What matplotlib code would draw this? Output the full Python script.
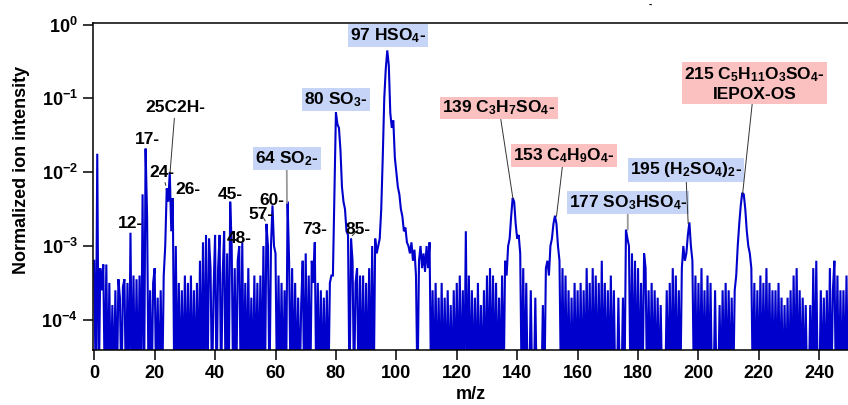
import matplotlib
matplotlib.use("Agg")
import matplotlib.pyplot as plt
import numpy as np

plt.rcParams['font.family'] = ['Liberation Sans', 'DejaVu Sans']
plt.rcParams['font.weight'] = 'bold'
plt.rcParams['mathtext.fontset'] = 'custom'
plt.rcParams['mathtext.rm'] = 'Liberation Sans:bold'
plt.rcParams['mathtext.bf'] = 'Liberation Sans:bold'
plt.rcParams['mathtext.it'] = 'Liberation Sans:bold'
plt.rcParams['mathtext.default'] = 'rm'

# spectrum: m/z from 0 to 250 in 0.5 steps,
# log10 of normalized intensity (-5 = below the axis floor)
mz_start, mz_step = 0.0, 0.5
log_int = [
    # 0 - 9.5
    -3.2, -5, -1.75, -5, -3.3, -3.6, -3.25, -5, -3.25, -5,
    -3.5, -5, -3.8, -5, -3.6, -5, -3.45, -3.7, -5, -3.55,
    # 10 - 19.5
    -3.45, -5, -3.5, -5, -2.82, -5, -3.4, -5, -3.45, -5,
    -3.4, -5, -2.3, -5, -1.68, -2.6, -5, -3.6, -5, -3.5,
    # 20 - 29.5
    -3.3, -5, -3.7, -5, -3.6, -5, -3.4, -3.0, -2.22, -2.4,
    -2.0, -2.8, -2.35, -5, -3.0, -5, -3.5, -5, -3.6, -5,
    # 30 - 39.5
    -3.4, -5, -3.5, -5, -3.4, -5, -3.6, -5, -3.5, -5,
    -3.2, -5, -2.95, -5, -2.85, -5, -2.9, -3.3, -5, -3.6,
    # 40 - 49.5
    -2.85, -5, -3.3, -2.85, -5, -3.4, -2.8, -5, -3.1, -5,
    -2.4, -3.0, -5, -3.3, -5, -3.2, -3.0, -5, -2.95, -5,
    # 50 - 59.5
    -3.5, -5, -3.3, -5, -3.7, -5, -3.4, -5, -3.5, -5,
    -3.4, -5, -3.0, -5, -2.7, -3.0, -5, -3.0, -2.45, -3.0,
    # 60 - 69.5
    -3.1, -5, -3.4, -5, -3.5, -5, -3.6, -5, -2.4, -3.2,
    -5, -3.3, -5, -3.5, -5, -3.7, -5, -3.8, -3.2, -5,
    # 70 - 79.5
    -3.1, -5, -3.4, -5, -3.2, -3.5, -2.95, -5, -3.5, -5,
    -3.6, -5, -3.7, -5, -3.6, -5, -3.5, -3.4, -3.4, -2.3,
    # 80 - 89.5
    -1.19, -1.35, -1.4, -1.7, -2.2, -2.4, -2.5, -2.8, -2.85, -5,
    -2.9, -3.2, -5, -3.5, -3.3, -5, -3.4, -5, -3.4, -5,
    # 90 - 99.5
    -3.5, -5, -3.3, -5, -3.0, -5, -2.9, -3.1, -3.0, -2.9,
    -2.5, -1.8, -1.0, -0.6, -0.35, -0.55, -1.2, -1.4, -1.3, -1.8,
    # 100 - 109.5
    -2.0, -2.2, -2.3, -2.5, -2.6, -2.8, -2.75, -2.95, -3.0, -3.1,
    -2.95, -3.2, -3.05, -3.4, -5, -3.2, -3.0, -3.3, -3.1, -3.35,
    # 110 - 119.5
    -3.0, -3.3, -2.95, -5, -3.6, -5, -3.5, -5, -3.7, -5,
    -3.5, -5, -3.7, -5, -3.6, -5, -3.8, -5, -3.6, -5,
    # 120 - 129.5
    -3.5, -5, -3.4, -5, -3.6, -5, -2.8, -5, -3.4, -5,
    -3.6, -5, -3.7, -5, -3.5, -5, -3.8, -5, -3.6, -5,
    # 130 - 139.5
    -3.4, -5, -3.3, -5, -3.4, -5, -3.5, -5, -3.7, -5,
    -3.4, -5, -3.2, -3.4, -3.0, -2.9, -2.6, -2.35, -2.4, -2.7,
    # 140 - 149.5
    -2.9, -2.85, -3.1, -5, -3.3, -5, -3.5, -5, -5, -3.6,
    -5, -5, -3.7, -5, -5, -5, -5, -3.8, -5, -3.3,
    # 150 - 159.5
    -3.2, -3.4, -3.0, -2.9, -2.7, -2.59, -2.7, -3.0, -3.2, -5,
    -3.3, -5, -3.4, -5, -3.6, -5, -3.7, -5, -3.5, -5,
    # 160 - 169.5
    -3.6, -5, -3.5, -5, -3.6, -5, -3.3, -5, -3.5, -5,
    -3.3, -5, -3.4, -5, -3.5, -5, -3.2, -5, -3.5, -5,
    # 170 - 179.5
    -3.6, -5, -3.4, -5, -3.6, -5, -5, -3.7, -5, -5,
    -3.7, -5, -2.78, -2.9, -3.0, -5, -3.1, -5, -3.2, -5,
    # 180 - 189.5
    -3.3, -5, -3.5, -5, -3.1, -3.3, -5, -3.6, -5, -3.5,
    -5, -3.6, -5, -3.7, -5, -3.8, -5, -5, -5, -3.6,
    # 190 - 199.5
    -5, -3.5, -5, -3.3, -5, -3.4, -5, -3.6, -5, -3.3,
    -3.0, -3.2, -3.1, -2.85, -2.68, -3.0, -3.2, -5, -3.4, -5,
    # 200 - 209.5
    -3.5, -5, -3.3, -5, -3.6, -5, -3.4, -5, -3.5, -5,
    -5, -3.6, -5, -5, -3.8, -5, -3.6, -5, -3.5, -5,
    # 210 - 219.5
    -3.6, -5, -3.7, -5, -3.6, -3.4, -3.0, -2.7, -2.45, -2.28,
    -2.3, -2.5, -2.8, -3.0, -3.1, -3.3, -5, -3.5, -5, -3.6,
    # 220 - 229.5
    -5, -3.4, -5, -3.5, -5, -3.3, -5, -3.5, -5, -3.6,
    -5, -3.6, -5, -3.5, -5, -3.7, -5, -3.8, -5, -3.7,
    # 230 - 239.5
    -5, -3.6, -5, -3.4, -5, -3.3, -5, -3.6, -5, -3.7,
    -5, -3.8, -5, -5, -3.8, -5, -3.3, -5, -3.2, -5,
    # 240 - 250
    -5, -3.6, -5, -3.7, -5, -3.6, -5, -3.3, -5, -3.6,
    -3.2, -5, -3.4, -5, -3.6, -5, -3.6, -5, -3.4, -5,
    -3.5,
]

# peak labels
label_text = [
    "12-", "17-", "25C2H-", "24-", "26-", "45-", "48-", "57-", "60-",
    r"64 SO$_2$-", "73-", r"80 SO$_3$-", "85-", r"97 HSO$_4$-",
    r"139 C$_3$H$_7$SO$_4$-", r"153 C$_4$H$_9$O$_4$-", r"177 SO$_3$HSO$_4$-",
    r"195 (H$_2$SO$_4$)$_2$-", "215 C$_5$H$_{11}$O$_3$SO$_4$-\nIEPOX-OS",
]
label_kind = ["plain"] * 9 + ["ion", "plain", "ion", "plain", "ion",
                               "os", "os", "ion", "ion", "os"]
# where each label sits (m/z, log10 y), and where its leader ends
label_pos = [(11.9, -2.70), (17.5, -1.56), (26.8, -1.13), (22.5, -2.00),
             (31.1, -2.24), (45.0, -2.30), (48.0, -2.90), (55.3, -2.57),
             (58.9, -2.39), (63.7, -1.82), (73.0, -2.78), (80.0, -1.02),
             (87.3, -2.78), (97.3, -0.15), (134.0, -1.13), (155.4, -1.77),
             (176.6, -2.41), (195.8, -1.97), (218.5, -0.80)]
leader_x = [None, None, 25.1, 23.7, 26.2, None, None, 56.6, None,
            63.8, None, None, 85.4, None, 138.6, 153.0, 176.6, 196.6, 214.6]
leader_end = [None, None, -2.0, -2.18, -2.38, None, None, -2.66, None,
              -2.42, None, None, -2.86, None, -2.36, -2.60, -2.78, -2.70, -2.30]
gray_leaders = [9, 16]

box_colors = {"ion": "#c5d4f7", "os": "#fbc1c1"}

mz = mz_start + mz_step * np.arange(len(log_int))
intensity = 10.0 ** np.array(log_int)

fig = plt.figure(figsize=(8.48, 4.05), dpi=100)
ax = fig.add_axes([0.1097, 0.1358, 0.8903, 0.8074])

ax.plot(mz, intensity, color="#0000cc", lw=1.5, solid_joinstyle="miter")
ax.set_yscale("log")
ax.set_xlim(-0.4, 249.5)
ax.set_ylim(3.9e-5, 1.05)

ax.set_xticks(np.arange(0, 250, 20))
ax.set_yticks([1e-4, 1e-3, 1e-2, 1e-1, 1e0])
ax.set_yticklabels([r"$10^{-4}$", r"$10^{-3}$", r"$10^{-2}$", r"$10^{-1}$", r"$10^{0}$"])
ax.yaxis.set_minor_locator(matplotlib.ticker.NullLocator())
ax.tick_params(axis="both", which="major", direction="out", length=7, width=1.1,
               labelsize=13, pad=4)
for lab in ax.get_xticklabels():
    lab.set_fontweight("bold")

for side in ["left", "bottom", "top"]:
    ax.spines[side].set_linewidth(1.1)
ax.spines["right"].set_visible(False)

ax.set_xlabel("m/z", fontsize=13, fontweight="bold", labelpad=3)
ax.set_ylabel("Normalized ion intensity", fontsize=13, fontweight="bold")
ax.yaxis.set_label_coords(-0.084, 0.55)

for i, (txt, kind, pos, lx, lend) in enumerate(zip(label_text, label_kind, label_pos,
                                                    leader_x, leader_end)):
    tx, ty = pos
    bbox = None
    if kind in box_colors:
        bbox = dict(boxstyle="square,pad=0.12", fc=box_colors[kind], ec="none")
    if lend is not None:
        if i in gray_leaders:
            lc, lw = "#999999", 1.3
        else:
            lc, lw = "#333333", 0.7
        ax.annotate(txt, xy=(lx, 10 ** lend), xytext=(tx, 10 ** ty),
                    ha="center", va="center", fontsize=12.5, fontweight="bold",
                    bbox=bbox, multialignment="center",
                    arrowprops=dict(arrowstyle="-", color=lc, lw=lw,
                                    shrinkA=0, shrinkB=0))
    else:
        ax.text(tx, 10 ** ty, txt, ha="center", va="center", fontsize=12.5,
                fontweight="bold", bbox=bbox, multialignment="center")

fig.text(650 / 848, 1 - 5 / 405, "-", fontsize=7, ha="center", va="center")

fig.savefig("out.png", dpi=100)
